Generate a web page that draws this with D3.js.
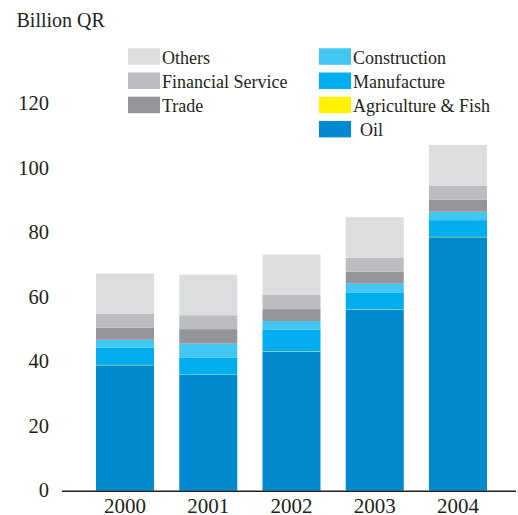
<!DOCTYPE html>
<html>
<head>
<meta charset="utf-8">
<script src="https://d3js.org/d3.v7.min.js"></script>
<style>
  body { margin: 0; background: white; }
  svg { font-family: 'Liberation Serif', 'Times New Roman', serif; fill: #231f20; }
</style>
</head>
<body>
<svg id="chart" width="518" height="515"></svg>
<script>
// values in Billion QR
var years = ["2000", "2001", "2002", "2003", "2004"];
var oil = [38.9, 35.9, 43.1, 56.1, 78.6];
var agriculture = [0.1, 0.1, 0.1, 0.1, 0.1];
var manufacture = [5.3, 5.2, 6.8, 5.3, 5.2];
var construction = [2.5, 4.4, 2.6, 2.7, 2.6];
var trade = [3.7, 4.5, 3.7, 3.7, 3.7];
var financial = [4.4, 4.3, 4.4, 4.4, 4.4];
var others = [12.5, 12.6, 12.5, 12.5, 12.6];
var yTicks = [0, 20, 40, 60, 80, 100, 120];

var series = [
  { key: "Oil", values: oil, color: "#0089cf" },
  { key: "Agriculture & Fish", values: agriculture, color: "#fff200" },
  { key: "Manufacture", values: manufacture, color: "#00aeef" },
  { key: "Construction", values: construction, color: "#42c6f2" },
  { key: "Trade", values: trade, color: "#939598" },
  { key: "Financial Service", values: financial, color: "#bcbdc1" },
  { key: "Others", values: others, color: "#dcdddf" }
];

// build rows for d3.stack
var rows = years.map(function (y, i) {
  var r = { year: y };
  series.forEach(function (s) { r[s.key] = s.values[i]; });
  return r;
});

var svg = d3.select("#chart");

var x = d3.scaleBand().domain(years).range([83.4, 499.6]).paddingInner(0.303).paddingOuter(0.1515);
var y = d3.scaleLinear().domain([0, 120]).range([490.7, 103.7]);

var stack = d3.stack().keys(series.map(function (s) { return s.key; }));
var layers = stack(rows);

svg.append("g").selectAll("g")
  .data(layers)
  .enter().append("g")
  .attr("fill", function (d, i) { return series[i].color; })
  .selectAll("rect")
  .data(function (d) { return d; })
  .enter().append("rect")
  .attr("x", function (d) { return x(d.data.year); })
  .attr("width", x.bandwidth())
  .attr("y", function (d) { return y(d[1]); })
  .attr("height", function (d) { return y(d[0]) - y(d[1]); });

// y tick labels (no axis line)
svg.append("g").selectAll("text")
  .data(yTicks)
  .enter().append("text")
  .attr("x", 49)
  .attr("y", function (d) { return y(d) + 6.5; })
  .attr("text-anchor", "end")
  .style("font-size", "20.5px")
  .text(function (d) { return d; });

// baseline
svg.append("line")
  .attr("x1", 62).attr("x2", 516)
  .attr("y1", y(0) + 0.5).attr("y2", y(0) + 0.5)
  .attr("stroke", "#231f20").attr("stroke-width", 1.6);

// year labels
svg.append("g").selectAll("text")
  .data(years)
  .enter().append("text")
  .attr("x", function (d) { return x(d) + x.bandwidth() / 2; })
  .attr("y", 513)
  .attr("text-anchor", "middle")
  .style("font-size", "21px")
  .text(function (d) { return d; });

// unit label
svg.append("text")
  .attr("x", 16.5).attr("y", 26.5)
  .style("font-size", "20px")
  .text("Billion QR");

// legend, two columns
var legendItems = [
  { key: "Others", col: 0, row: 0 },
  { key: "Financial Service", col: 0, row: 1 },
  { key: "Trade", col: 0, row: 2 },
  { key: "Construction", col: 1, row: 0 },
  { key: "Manufacture", col: 1, row: 1 },
  { key: "Agriculture & Fish", col: 1, row: 2 },
  { key: "Oil", col: 1, row: 3 }
];
var colX = [128, 319];
var legend = svg.append("g").selectAll("g")
  .data(legendItems)
  .enter().append("g")
  .attr("transform", function (d) { return "translate(" + colX[d.col] + "," + (48.3 + d.row * 24.2) + ")"; });

legend.append("rect")
  .attr("width", 32).attr("height", 16.5)
  .attr("fill", function (d) {
    return series.find(function (s) { return s.key === d.key; }).color;
  });

legend.append("text")
  .attr("x", function (d) { return d.key === "Oil" ? 41 : 34; })
  .attr("y", 15.5)
  .style("font-size", "18px")
  .text(function (d) { return d.key; });
</script>
</body>
</html>
